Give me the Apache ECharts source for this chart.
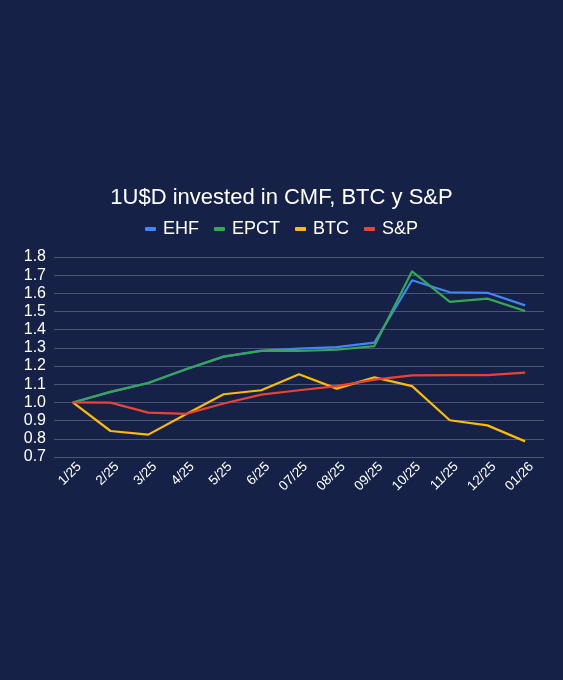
<!DOCTYPE html>
<html>
<head>
<meta charset="utf-8">
<script src="https://cdn.jsdelivr.net/npm/echarts@6/dist/echarts.min.js"></script>
<style>
  html, body { margin: 0; padding: 0; background: #162147; }
  #container { width: 563px; height: 680px; }
</style>
</head>
<body>
<div id="container"></div>
<script>
var months = ['1/25', '2/25', '3/25', '4/25', '5/25', '6/25', '07/25', '08/25', '09/25', '10/25', '11/25', '12/25', '01/26'];
var ehf  = [1.00, 1.058, 1.107, 1.183, 1.252, 1.285, 1.296, 1.304, 1.329, 1.672, 1.606, 1.603, 1.534];
var epct = [1.00, 1.058, 1.107, 1.183, 1.252, 1.283, 1.283, 1.290, 1.310, 1.721, 1.553, 1.571, 1.503];
var btc  = [1.00, 0.843, 0.823, 0.935, 1.045, 1.067, 1.155, 1.076, 1.138, 1.090, 0.902, 0.874, 0.786];
var snp  = [1.00, 0.999, 0.944, 0.937, 0.994, 1.043, 1.067, 1.090, 1.126, 1.149, 1.150, 1.150, 1.164];

var dom = document.getElementById('container');
var myChart = echarts.init(dom, null, { renderer: 'canvas' });

function line(name, data, color) {
    return {
        name: name,
        type: 'line',
        data: data,
        symbol: 'none',
        lineStyle: { width: 2.2, color: color },
        itemStyle: { color: color }
    };
}

var option = {
    backgroundColor: '#162147',
    textStyle: { fontFamily: 'Liberation Sans, Arial, sans-serif' },
    title: {
        text: '1U$D invested in CMF, BTC y S&P',
        left: 'center',
        top: 182,
        textStyle: { color: '#ffffff', fontSize: 22, fontWeight: 'normal' }
    },
    legend: {
        top: 215,
        left: 'center',
        itemWidth: 11,
        itemHeight: 4,
        itemGap: 15,
        icon: 'roundRect',
        textStyle: { color: '#ffffff', fontSize: 18, padding: [0, 0, 0, 2] }
    },
    grid: {
        left: 54,
        right: 19,
        top: 257,
        height: 200,
        containLabel: false
    },
    xAxis: {
        type: 'category',
        data: months,
        boundaryGap: true,
        axisLine: { show: false },
        axisTick: { show: false },
        axisLabel: {
            color: '#ffffff', fontSize: 13.5, rotate: 45, margin: 14, interval: 0,
            padding: [0, -9, 0, 0]
        }
    },
    yAxis: {
        type: 'value',
        min: 0.7,
        max: 1.8,
        interval: 0.1,
        axisLabel: {
            color: '#ffffff',
            fontSize: 16,
            margin: 8,
            formatter: function (v) { return v.toFixed(1); }
        },
        splitLine: { lineStyle: { color: '#4a5475', width: 1 } }
    },
    series: [
        line('EHF', ehf, '#4285F4'),
        line('EPCT', epct, '#34A853'),
        line('BTC', btc, '#FBBC04'),
        line('S&P', snp, '#EA4335')
    ]
};

myChart.setOption(option);
window.addEventListener('resize', myChart.resize);
</script>
</body>
</html>
